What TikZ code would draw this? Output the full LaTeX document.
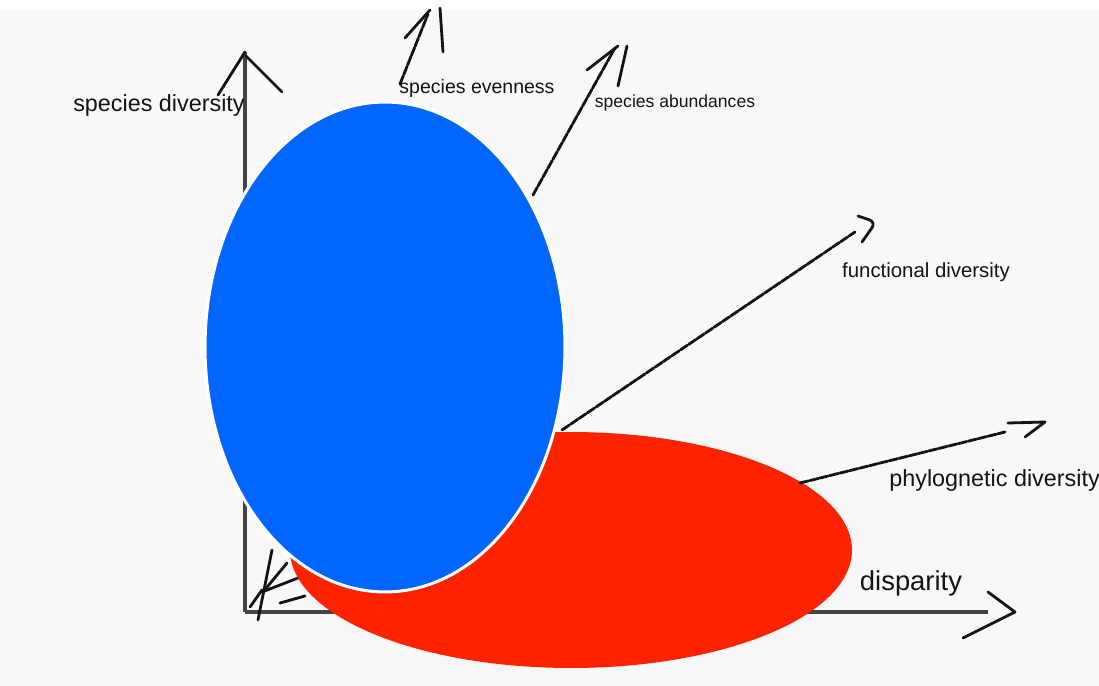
\documentclass[tikz,border=0pt]{standalone}
\usepackage{fontspec}
\setmainfont{Liberation Sans}
\usetikzlibrary{calc}
\definecolor{blue}{RGB}{0,102,255}
\definecolor{red}{RGB}{255,34,0}
\definecolor{ink}{RGB}{20,20,20}
\definecolor{paper}{RGB}{248,248,248}

\begin{document}
\begin{tikzpicture}[x=0.02cm, y=-0.02cm,
  ink/.style={draw=ink, line width=1.6pt, line cap=round, line join=round},
  axis/.style={draw=ink!80, line width=2pt},
  rough/.style={ink, dash pattern=on 5pt off 0.8pt},
  lbl/.style={text=ink, inner sep=0pt}]

%---------------------------------------
% Canvas
%---------------------------------------
\fill[white] (0,0) rectangle (1099,686);
\fill[paper] (0,10) rectangle (1099,686);
\useasboundingbox (0,0) rectangle (1099,686);

%---------------------------------------
% Named points
%---------------------------------------
\coordinate (O)     at (245,612);
\coordinate (Ytip)  at (245,52);
\coordinate (Xtip)  at (988,612);
\coordinate (evS)   at (400,84);
\coordinate (evT)   at (428,14);
\coordinate (abS)   at (533,195);
\coordinate (abT)   at (615,48);
\coordinate (fnS)   at (562,430);
\coordinate (fnT)   at (855,232);
\coordinate (phS)   at (800,483);
\coordinate (phT)   at (1005,432);

%---------------------------------------
% Axes
%---------------------------------------
\draw[axis] (O) -- (Ytip);
\draw[ink] (218,95) -- (Ytip);
\draw[ink] (246,56) -- (282,92);
\draw[axis] (O) -- (Xtip);
\draw[ink] (988,592) -- (1015,612) -- (963,638);

% little fan in the corner
\draw[ink] (272,550) -- (258,620);
\draw[ink] (263,592) -- (287,563);
\draw[ink] (262,592) -- (298,578);
\draw[ink] (280,603) -- (305,596);
\draw[ink] (250,607) -- (262,590);

%---------------------------------------
% Blobs
%---------------------------------------
\fill[red] (571,550) ellipse [x radius=5.62cm, y radius=2.36cm];
\filldraw[fill=blue, draw=white, line width=1.7pt]
  (385,347) ellipse [x radius=3.6cm, y radius=4.9cm];

%---------------------------------------
% Rays
%---------------------------------------
\draw[rough] (evS) -- (evT);
\draw[ink] (405,38) -- (430,10);
\draw[ink] (440,8) -- (443,52);

\draw[rough] (abS) -- (abT);
\draw[ink] (587,70) -- (618,46);
\draw[ink] (627,46) -- (618,86);

\draw[rough] (fnS) -- (fnT);
\draw[ink, rounded corners=4pt] (858,216) -- (876,222) -- (862,242);

\draw[rough] (phS) -- (phT);
\draw[ink] (1008,423) -- (1045,422) -- (1025,437);

%---------------------------------------
% Labels
%---------------------------------------
\node[lbl, font=\fontsize{13.3}{15}\selectfont] (spdiv) at (159,105) {species diversity};
\node[lbl, font=\fontsize{11.1}{13}\selectfont] (spev)  at (477,88)  {species evenness};
\node[lbl, font=\fontsize{10}{12}\selectfont]   (spab)  at (675,103) {species abundances};
\node[lbl, font=\fontsize{11.6}{13}\selectfont] (fndiv) at (926,272) {functional diversity};
\node[lbl, font=\fontsize{13.3}{15}\selectfont, anchor=west] (phdiv) at (889,480) {phylognetic diversity};
\node[lbl, font=\fontsize{15.6}{18}\selectfont] (disp)  at (911,583) {disparity};

\end{tikzpicture}
\end{document}
